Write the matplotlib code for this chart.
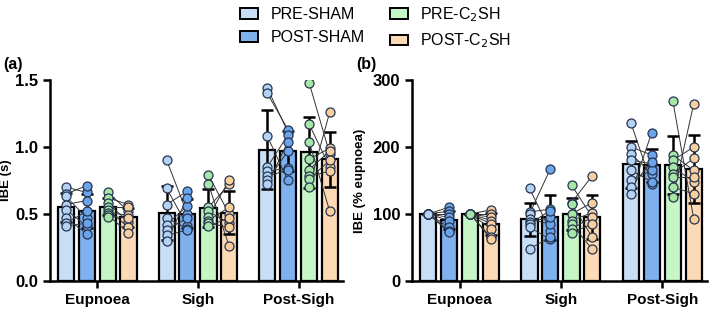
import numpy as np
import matplotlib
matplotlib.use("Agg")
import matplotlib.pyplot as plt
from matplotlib.patches import Patch

plt.rcParams['font.family'] = ['Liberation Sans', 'DejaVu Sans']

groups = ['Eupnoea', 'Sigh', 'Post-Sigh']
conditions = ['PRE-SHAM', 'POST-SHAM', 'PRE-C$_2$SH', 'POST-C$_2$SH']
bar_colors = ['#c8ddf6', '#7fb1ef', '#c6f5c6', '#fcdab5']
pt_colors = ['#b3d2f4', '#6aa5ec', '#a6e6a6', '#f9cf9e']

# panel (a): IBE (s); index k of PRE and POST lists is the same animal
ibe_s = {
    'Eupnoea': [
        [0.70, 0.65, 0.63, 0.57, 0.53, 0.47, 0.43, 0.41],
        [0.66, 0.71, 0.47, 0.60, 0.41, 0.35, 0.52, 0.43],
        [0.66, 0.62, 0.58, 0.55, 0.53, 0.51, 0.49, 0.48],
        [0.52, 0.57, 0.44, 0.55, 0.40, 0.49, 0.36, 0.47],
    ],
    'Sigh': [
        [0.90, 0.69, 0.57, 0.47, 0.42, 0.38, 0.34, 0.30],
        [0.50, 0.41, 0.67, 0.39, 0.56, 0.47, 0.38, 0.62],
        [0.79, 0.72, 0.55, 0.52, 0.48, 0.45, 0.43, 0.41],
        [0.50, 0.26, 0.72, 0.43, 0.75, 0.55, 0.40, 0.47],
    ],
    'Post-Sigh': [
        [1.44, 1.40, 1.08, 0.85, 0.82, 0.78, 0.75, 0.72],
        [1.11, 1.13, 0.75, 1.09, 0.84, 0.83, 0.97, 1.04],
        [1.48, 1.17, 1.04, 0.91, 0.83, 0.78, 0.76, 0.70],
        [0.95, 0.85, 0.52, 0.99, 0.97, 0.82, 0.90, 1.26],
    ],
}

# panel (b): IBE (% eupnoea)
ibe_pct = {
    'Eupnoea': [
        [100, 100, 100, 100, 100, 100, 100, 100],
        [110, 104, 100, 95, 90, 80, 75, 73],
        [100, 100, 100, 100, 100, 100, 100, 100],
        [106, 100, 95, 90, 85, 78, 65, 62],
    ],
    'Sigh': [
        [138, 103, 100, 92, 88, 85, 80, 48],
        [75, 107, 167, 85, 95, 105, 62, 65],
        [143, 117, 115, 100, 90, 85, 78, 72],
        [95, 157, 65, 117, 102, 47, 95, 85],
    ],
    'Post-Sigh': [
        [236, 200, 190, 180, 165, 150, 140, 130],
        [145, 188, 160, 175, 148, 165, 178, 221],
        [268, 188, 180, 170, 160, 155, 140, 125],
        [93, 165, 200, 148, 183, 155, 130, 264],
    ],
}

offsets = [-0.31, -0.105, 0.105, 0.31]
width = 0.16

fig = plt.figure(figsize=(7.09, 3.10), dpi=100)
ax_a = fig.add_axes([0.0705, 0.094, 0.413, 0.648])
ax_b = fig.add_axes([0.581, 0.094, 0.416, 0.648])


def draw_panel(ax, data, ylim, yticks, yticklabels, ylabel, label_x):
    for gi, g in enumerate(groups):
        vals = [np.array(v, dtype=float) for v in data[g]]
        xs = [gi + o for o in offsets]
        for ci in range(4):
            m = vals[ci].mean()
            sd = vals[ci].std(ddof=1)
            ax.bar(xs[ci], m, width=width, color=bar_colors[ci],
                   edgecolor='black', linewidth=1.6, zorder=2)
            ax.errorbar(xs[ci], m, yerr=sd, color='black', capsize=4.5,
                        elinewidth=1.8, capthick=1.8, zorder=3)
        # lines joining the same animal before / after
        for a, b in [(0, 1), (2, 3)]:
            for k in range(len(vals[a])):
                ax.plot([xs[a], xs[b]], [vals[a][k], vals[b][k]],
                        color='#333333', lw=0.7, zorder=4)
        for ci in range(4):
            ax.scatter(np.full(len(vals[ci]), xs[ci]), vals[ci], s=42,
                       facecolor=pt_colors[ci], edgecolor='#26344f',
                       linewidth=0.9, zorder=5)
    ax.set_xlim(-0.47, 2.44)
    ax.set_ylim(*ylim)
    ax.set_yticks(yticks)
    ax.set_yticklabels(yticklabels, fontsize=12, fontweight='bold')
    ax.set_xticks(range(3))
    ax.set_xticklabels(groups, fontsize=11, fontweight='bold')
    ax.set_ylabel(ylabel, fontsize=9.5, fontweight='bold')
    ax.yaxis.set_label_coords(label_x, 0.5)
    for s in ['top', 'right']:
        ax.spines[s].set_visible(False)
    for s in ['left', 'bottom']:
        ax.spines[s].set_linewidth(1.8)
    ax.tick_params(width=1.8, length=5)


draw_panel(ax_a, ibe_s, (0, 1.5), [0.0, 0.5, 1.0, 1.5],
           ['0.0', '0.5', '1.0', '1.5'], 'IBE (s)', -0.13)
draw_panel(ax_b, ibe_pct, (0, 300), [0, 100, 200, 300],
           ['0', '100', '200', '300'], 'IBE (% eupnoea)', -0.155)

fig.text(0.005, 0.778, '(a)', fontsize=11.5, fontweight='bold')
fig.text(0.503, 0.778, '(b)', fontsize=11.5, fontweight='bold')

handles = [Patch(facecolor=bar_colors[i], edgecolor='black', linewidth=1.4)
           for i in range(4)]
fig.legend(handles, conditions, loc='upper center', bbox_to_anchor=(0.53, 1.03),
           ncol=2, frameon=False, fontsize=11.5, handlelength=1.1,
           handleheight=0.6, columnspacing=1.6, labelspacing=0.5)

fig.savefig('out.png', dpi=100)
